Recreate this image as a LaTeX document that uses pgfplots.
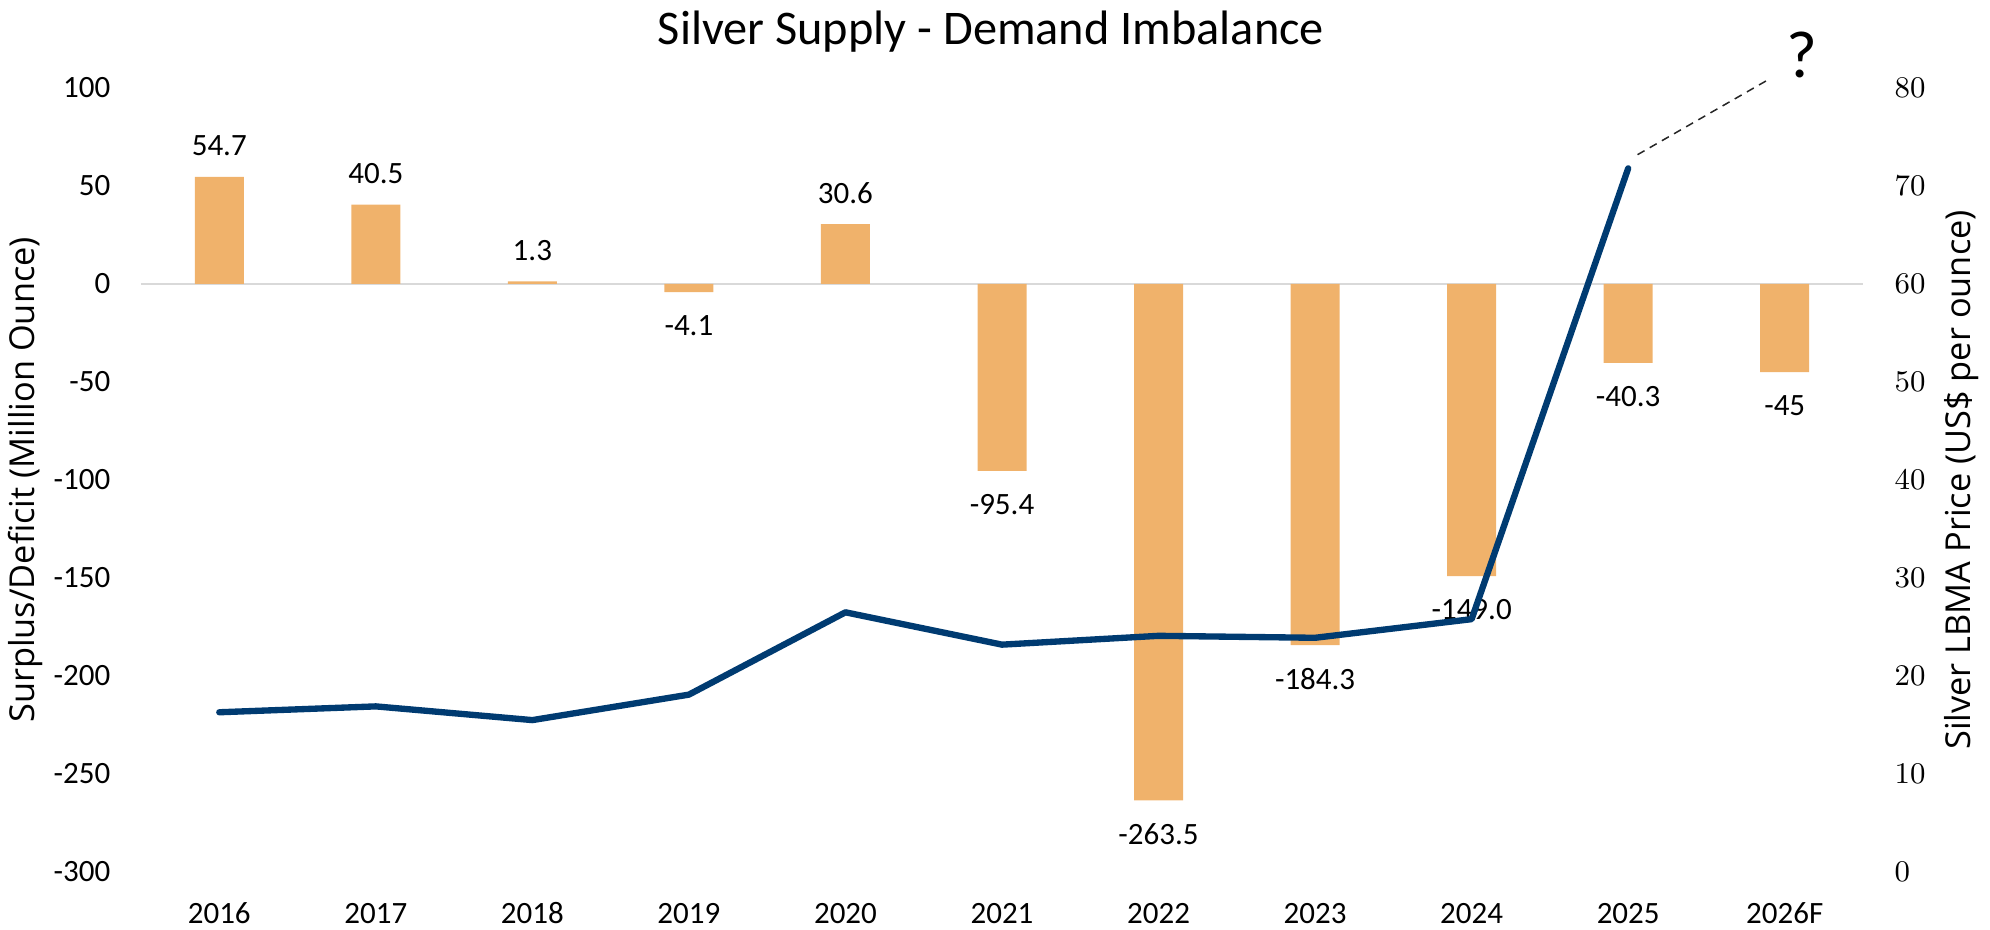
\documentclass[border=0pt]{standalone}
\usepackage{fontspec}
\setmainfont{Carlito}
\newfontfamily\labelfont{Open Sans}
\usepackage{pgfplots}
\pgfplotsset{compat=1.18}
\definecolor{barorange}{HTML}{F0B26B}
\definecolor{linenavy}{HTML}{003B71}
\definecolor{zerogray}{HTML}{D9D9D9}

\pgfplotsset{
  silverbase/.style={
    at={(0,0)}, anchor=south west,
    scale only axis, width=516.6pt, height=235.2pt,
    xmin=-0.5, xmax=10.5,
    axis line style={draw=none},
    major tick length=0pt,
    tick label style={font=\fontsize{9.3}{11}\selectfont},
    clip=false,
  },
}

\begin{document}
\begin{tikzpicture}
\useasboundingbox (-42.3pt,-17.1pt) rectangle (554.7pt,261.6pt);
\begin{axis}[
  silverbase,
  axis y line*=left, axis x line*=bottom,
  ymin=-300, ymax=100,
  xtick={0,...,10},
  xticklabels={2016,2017,2018,2019,2020,2021,2022,2023,2024,2025,2026F},
  xticklabel style={anchor=base, inner sep=0pt, yshift=-15.3pt},
  ytick={-300,-250,-200,-150,-100,-50,0,50,100},
  yticklabels={-300,-250,-200,-150,-100,-50,0,50,100},
  yticklabel style={anchor=east, inner sep=0pt, xshift=-9pt},
  ylabel={Surplus/Deficit (Million Ounce)},
  ylabel style={at={(axis description cs:-0.067,0.5)}, anchor=center,
    font=\labelfont\fontsize{10.3}{12}\selectfont},
]
\addplot[zerogray, line width=0.6pt, mark=none] coordinates {(-0.5,0) (10.5,0)};
% surplus years
\addplot[ybar, bar width=14.7pt, bar shift=0pt, fill=barorange, draw=none,
  point meta=explicit symbolic, nodes near coords,
  every node near coord/.append style={anchor=south, inner sep=0pt, yshift=6pt,
    font=\fontsize{9.3}{11}\selectfont, text=black}]
  coordinates {(0,54.7)[54.7] (1,40.5)[40.5] (2,1.3)[1.3] (4,30.6)[30.6]};
% deficit years
\addplot[ybar, bar width=14.7pt, bar shift=0pt, fill=barorange, draw=none,
  point meta=explicit symbolic, nodes near coords,
  every node near coord/.append style={anchor=north, inner sep=0pt, yshift=-6.8pt,
    font=\fontsize{9.3}{11}\selectfont, text=black}]
  coordinates {(3,-4.1)[-4.1] (5,-95.4)[-95.4] (6,-263.5)[-263.5] (7,-184.3)[-184.3]
    (8,-149.0)[-149.0] (9,-40.3)[-40.3] (10,-45)[-45]};
\end{axis}
\begin{axis}[
  silverbase,
  axis y line*=right, axis x line=none,
  ymin=0, ymax=80,
  ytick={0,10,...,80},
  yticklabel style={anchor=west, inner sep=0pt, xshift=9.3pt},
  ylabel={Silver LBMA Price (US\$ per ounce)},
  ylabel style={at={(axis description cs:1.057,0.5)}, anchor=center,
    font=\labelfont\fontsize{10.3}{12}\selectfont},
]
\addplot[linenavy, line width=1.9pt, line join=round, line cap=round, mark=none]
  coordinates {(0,16.3) (1,16.9) (2,15.5) (3,18.1) (4,26.5) (5,23.2)
    (6,24.1) (7,23.9) (8,25.8) (9,71.8)};
\draw[black!85, line width=0.45pt, dash pattern=on 2.4pt off 1.8pt]
  (axis cs:9.06,73.2) -- (axis cs:9.90,80.9);
\node[font=\fontsize{20}{24}\selectfont] at (axis cs:10.11,83.4) {?};
\end{axis}
\node[anchor=base, font=\fontsize{14.5}{17}\selectfont] at (255pt,248.1pt)
  {Silver Supply - Demand Imbalance};
\end{tikzpicture}
\end{document}
